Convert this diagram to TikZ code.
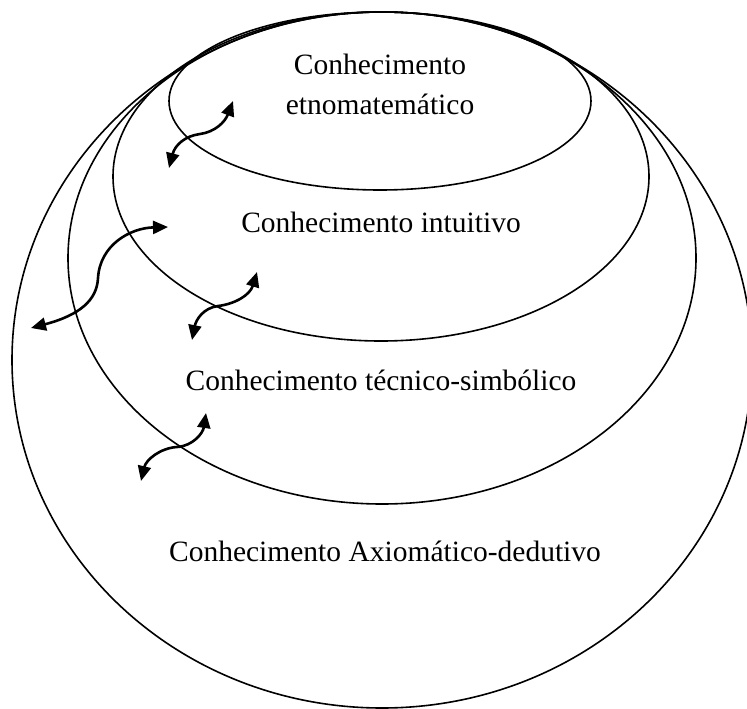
\documentclass[tikz,border=0pt]{standalone}
\usepackage{fontspec}
\setmainfont{Liberation Serif}
\usetikzlibrary{arrows.meta}

\begin{document}
\begin{tikzpicture}[x=1pt,y=-1pt]
    \tikzstyle{every node}+=[inner sep=0pt, font=\fontsize{29.5}{40}\selectfont]
    \tikzstyle{layer}=[black, line width=1.6pt]
    \tikzstyle{link}=[black, line width=2.6pt, {Triangle[length=15pt,width=13pt]}-{Triangle[length=15pt,width=13pt]}]
    \useasboundingbox (0,0) rectangle (747,709);
    % the four levels of knowledge
    \draw [layer] (380,101) ellipse (211 and 89);
    \draw [layer] (381,176.5) ellipse (268 and 164.5);
    \draw [layer] (382,258) ellipse (314 and 246);
    \draw [layer] (382,360) ellipse (370 and 348);
    \node (etno) at (380,84) [align=center] {Conhecimento\\etnomatemático};
    \node (intuitivo) at (381,232) [anchor=base] {Conhecimento intuitivo};
    \node (tecnico) at (381,390) [anchor=base] {Conhecimento técnico-simbólico};
    \node (axiomatico) at (385,561) [anchor=base] {Conhecimento Axiomático-dedutivo};
    % ends of the double arrows
    \coordinate (a1) at (169,168);
    \coordinate (b1) at (233,101);
    \coordinate (a2) at (31,328);
    \coordinate (b2) at (168,227);
    \coordinate (a3) at (192,340);
    \coordinate (b3) at (257,272);
    \coordinate (a4) at (141,481);
    \coordinate (b4) at (206,413);
    \draw [link] (a1) .. controls (175,145) and (185,136) .. (200,134) .. controls (215,132) and (225,122) .. (b1);
    \draw [link] (a2) .. controls (80,315) and (97,300) .. (98,278) .. controls (100,245) and (130,228) .. (b2);
    \draw [link] (a3) .. controls (196,320) and (203,308) .. (218,306) .. controls (235,304) and (250,295) .. (b3);
    \draw [link] (a4) .. controls (146,460) and (160,448) .. (177,447) .. controls (193,446) and (203,433) .. (b4);
\end{tikzpicture}
\end{document}
